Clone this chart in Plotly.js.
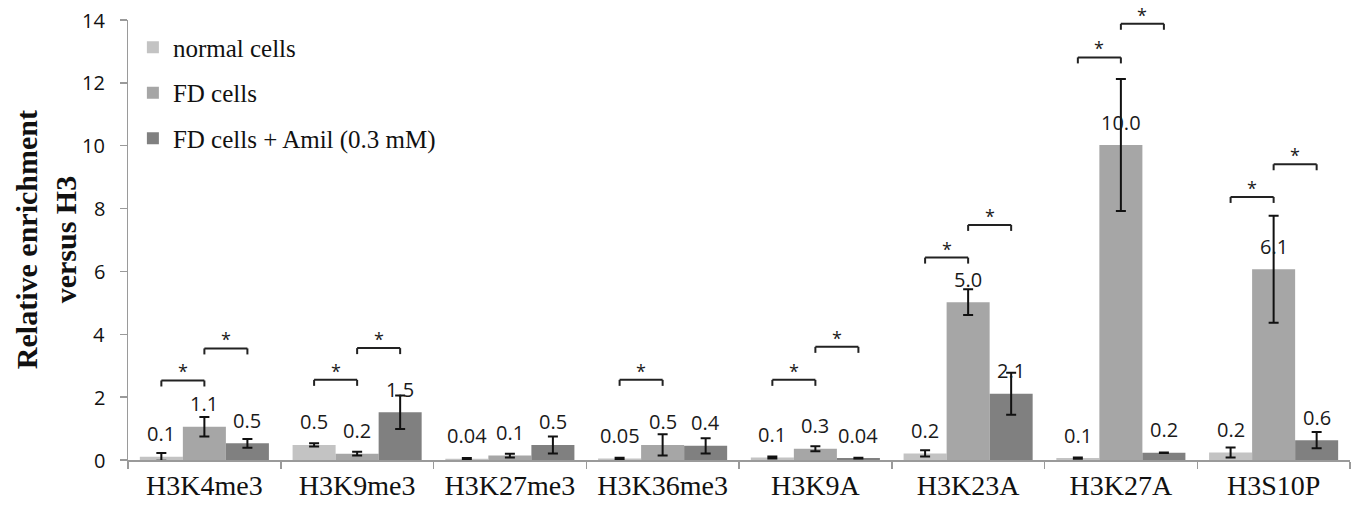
<!DOCTYPE html>
<html>
<head>
<meta charset="utf-8">
<script src="https://cdn.plot.ly/plotly-3.0.1.min.js"></script>
<style>html,body{margin:0;padding:0;background:#fff;}#chart{width:1352px;height:508px;}</style>
</head>
<body>
<div id="chart"></div>
<script>
// ---- data ----
const categories = ["H3K4me3", "H3K9me3", "H3K27me3", "H3K36me3", "H3K9A", "H3K23A", "H3K27A", "H3S10P"];
const seriesNames = ["normal cells", "FD cells", "FD cells + Amil (0.3 mM)"];

const normalVals = [0.10, 0.48, 0.04, 0.05, 0.08, 0.21, 0.06, 0.24];
const fdVals     = [1.06, 0.20, 0.14, 0.48, 0.36, 5.02, 10.02, 6.07];
const amilVals   = [0.53, 1.52, 0.48, 0.45, 0.06, 2.11, 0.23, 0.63];

const normalErr = [0.12, 0.05, 0.02, 0.02, 0.03, 0.10, 0.02, 0.16];
const fdErr     = [0.31, 0.06, 0.06, 0.34, 0.08, 0.41, 2.10, 1.70];
const amilErr   = [0.14, 0.53, 0.27, 0.24, 0.01, 0.67, 0.01, 0.26];

const normalLabels = ["0.1", "0.5", "0.04", "0.05", "0.1", "0.2", "0.1", "0.2"];
const fdLabels     = ["1.1", "0.2", "0.1", "0.5", "0.3", "5.0", "10.0", "6.1"];
const amilLabels   = ["0.5", "1.5", "0.5", "0.4", "0.04", "2.1", "0.2", "0.6"];

// significance brackets: category, from series, to series, level
const sigCategory = ["H3K4me3", "H3K4me3", "H3K9me3", "H3K9me3", "H3K36me3", "H3K9A", "H3K9A", "H3K23A", "H3K23A", "H3K27A", "H3K27A", "H3S10P", "H3S10P"];
const sigFrom     = [0, 1, 0, 1, 0, 0, 1, 0, 1, 0, 1, 0, 1];
const sigTo       = [1, 2, 1, 2, 1, 1, 2, 1, 2, 1, 2, 1, 2];
const sigLevel    = [2.53, 3.55, 2.55, 3.56, 2.55, 2.55, 3.60, 6.44, 7.48, 12.81, 13.88, 8.37, 9.41];

const yTicks = [0, 2, 4, 6, 8, 10, 12, 14];
const yTickLabels = ["0", "2", "4", "6", "8", "10", "12", "14"];
const yTitle = "Relative enrichment<br>versus H3";

// ---- styling ----
const colors = ["#c3c3c3", "#a6a6a6", "#808080"];
const bargap = 0.155;
const barW = (1 - bargap) / 3;
const sans = "Open Sans, Noto Sans, sans-serif";
const serif = "Liberation Serif, Times New Roman, serif";

const values = [normalVals, fdVals, amilVals];
const errs = [normalErr, fdErr, amilErr];
const labels = [normalLabels, fdLabels, amilLabels];

const traces = values.map((v, k) => ({
  type: "bar",
  name: seriesNames[k],
  x: categories,
  y: v,
  marker: {color: colors[k], line: {width: 0}},
  error_y: {type: "data", array: errs[k], visible: true, color: "#111", thickness: 2, width: 5},
  legendgroup: "g" + k,
  hoverinfo: "skip"
}));

const annotations = [];
const shapes = [];
const off = k => (k - 1) * barW;

// data labels
values.forEach((v, k) => {
  v.forEach((val, i) => {
    annotations.push({
      xref: "x", yref: "y", x: i + off(k), y: val,
      text: labels[k][i], showarrow: false,
      yanchor: "middle", yshift: 23,
      font: {family: sans, size: 20, color: "#1a1a1a"}
    });
  });
});

// significance brackets
sigCategory.forEach((c, j) => {
  const i = categories.indexOf(c);
  const x0 = i + off(sigFrom[j]);
  const x1 = i + off(sigTo[j]);
  const y = sigLevel[j];
  const line = {color: "#222", width: 2};
  shapes.push({type: "line", xref: "x", yref: "y", x0: x0, x1: x1, y0: y, y1: y, line: line});
  [x0, x1].forEach(xx => {
    shapes.push({type: "line", xref: "x", yref: "y", ysizemode: "pixel", yanchor: y,
      x0: xx, x1: xx, y0: 0, y1: -6, line: line});
  });
  annotations.push({
    xref: "x", yref: "y", x: (x0 + x1) / 2, y: y, text: "*", showarrow: false,
    yanchor: "bottom", yshift: -5,
    font: {family: sans, size: 18, color: "#1a1a1a"}
  });
});

// y tick labels (placed further from the axis, as in the reference)
yTicks.forEach((t, i) => {
  annotations.push({
    xref: "paper", yref: "y", x: 0, y: t, xanchor: "right", yanchor: "middle",
    xshift: -21, text: yTickLabels[i], showarrow: false,
    font: {family: sans, size: 20, color: "#111"}
  });
});

// y-axis title
annotations.push({
  xref: "paper", yref: "paper", x: -0.067, y: 0.5, xanchor: "center", yanchor: "middle",
  text: "<b>" + yTitle + "</b>", textangle: -90, showarrow: false,
  font: {family: serif, size: 30, color: "#111"}
});

const layout = {
  width: 1352, height: 508,
  margin: {l: 128, r: 2, t: 20, b: 48},
  paper_bgcolor: "#fff", plot_bgcolor: "#fff",
  barmode: "group", bargap: bargap, bargroupgap: 0,
  showlegend: true,
  legend: {
    x: 0.004, y: 0.99, xanchor: "left", yanchor: "top",
    bgcolor: "rgba(0,0,0,0)",
    font: {family: serif, size: 25, color: "#111"},
    traceorder: "grouped", tracegroupgap: 10
  },
  xaxis: {
    type: "category",
    showline: true, linecolor: "#9a9a9a", linewidth: 1.5,
    ticks: "outside", tickson: "boundaries", ticklen: 7, tickcolor: "#9a9a9a", tickwidth: 1.5,
    tickfont: {family: serif, size: 28, color: "#111"},
    showgrid: false, zeroline: false, fixedrange: true
  },
  yaxis: {
    range: [0, 14], tickvals: yTicks, showticklabels: false,
    showline: true, linecolor: "#9a9a9a", linewidth: 1.5,
    ticks: "outside", ticklen: 7, tickcolor: "#9a9a9a", tickwidth: 1.5,
    showgrid: false, zeroline: false, fixedrange: true
  },
  shapes: shapes,
  annotations: annotations
};

Plotly.newPlot("chart", traces, layout, {displayModeBar: false, staticPlot: true});
</script>
</body>
</html>
